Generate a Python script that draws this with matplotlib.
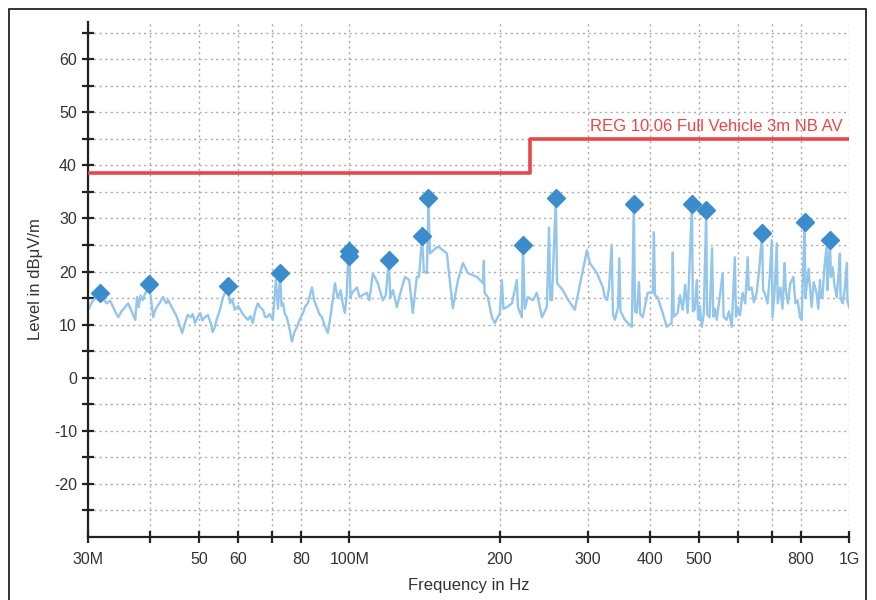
import matplotlib
matplotlib.use("Agg")
import matplotlib.pyplot as plt
from matplotlib.ticker import FixedLocator, FixedFormatter, NullLocator
from matplotlib.patches import Rectangle

plt.rcParams['font.family'] = ['Liberation Sans', 'DejaVu Sans']
plt.rcParams['axes.unicode_minus'] = False

# measured trace: frequency (MHz), level (dBuV/m)
trace_freq = [
    30.0, 30.4, 30.7, 31.2, 31.7, 32.2, 32.7, 33.2, 33.7, 34.1, 34.5, 35.0, 35.6, 36.1, 36.8,
    37.3, 37.6, 37.9, 38.2, 38.6, 39.0, 39.4, 39.8, 40.2, 40.5, 40.8, 41.2, 41.8, 42.4, 43.0,
    43.4, 44.0, 44.4, 45.0, 45.4, 46.3, 46.9, 47.5, 48.2, 48.6, 49.1, 49.8, 50.3, 50.8, 51.4,
    52.1, 52.8, 53.3, 53.8, 54.3, 55.3, 55.8, 56.4, 57.2, 57.7, 58.3, 59.0, 60.0, 61.0, 61.8,
    62.7, 63.4, 64.1, 64.8, 65.6, 66.4, 67.2, 67.8, 68.4, 69.3, 70.3, 71.3, 72.0, 72.7, 73.2,
    73.7, 74.3, 75.0, 76.0, 76.8, 77.6, 78.6, 79.6, 80.8, 81.7, 82.6, 83.4, 84.2, 85.1, 86.1,
    87.1, 88.1, 89.3, 90.6, 92.0, 93.6, 94.8, 96.1, 97.0, 98.0, 98.8, 99.5, 100.0, 100.6,
    101.3, 103.6, 104.8, 108.4, 109.7, 111.5, 114.0, 116.7, 118.3, 120.0, 120.8,
    122.3, 124.5, 125.9, 129.2, 131.8, 134.0, 136.5, 137.9, 139.8, 141.0, 143.0, 144.0, 145.0,
    149.8, 151.2, 156.8, 158.3, 161.2, 165.0, 168.8, 172.7, 180.1, 185.2, 185.9, 186.5, 189.3,
    192.9, 195.6, 200.2, 202.0, 203.5, 206.8, 211.6, 216.4, 217.5, 221.4, 222.6, 224.5, 227.7,
    233.1, 237.3, 243.0, 248.5, 251.0, 252.5, 254.4, 259.0, 260.5, 267.4, 274.4, 282.6, 287.2,
    296.0, 298.7, 303.0, 313.0, 321.7, 324.6, 328.0, 331.0, 335.0, 337.0, 340.0, 345.0, 347.0,
    349.0, 356.0, 361.0, 367.6, 371.0, 373.0, 376.0, 380.0, 382.0, 386.5, 395.5, 404.7, 407.0,
    409.0, 414.0, 423.8, 431.7, 441.7, 444.0, 446.0, 454.0, 459.0, 464.7, 470.0, 475.5, 485.0,
    487.0, 491.0, 496.0, 499.0, 503.0, 507.5, 512.0, 518.0, 520.0, 526.0, 532.0, 535.0, 539.0,
    543.6, 550.0, 558.7, 561.0, 569.0, 575.0, 582.6, 591.0, 594.0, 598.6, 605.0, 612.6, 620.0,
    627.0, 630.0, 638.5, 645.0, 653.5, 662.0, 670.0, 673.0, 678.0, 687.0, 694.0, 700.5,
    703.0, 710.0, 717.0, 720.0, 729.0, 736.0, 743.5, 747.0, 755.0, 763.0, 774.0, 781.0, 789.0,
    798.0, 804.0, 815.0, 818.0, 822.0, 830.0, 841.5, 850.0, 861.0, 868.0, 875.0, 878.0, 885.0,
    893.0, 902.0, 905.0, 910.0, 916.0, 920.0, 927.0, 935.0, 945.0, 952.0, 959.0, 962.0, 971.0,
    980.0, 990.0, 993.0, 1000.0,
]
trace_level = [
    12.8, 13.8, 14.6, 15.2, 15.9, 14.8, 14.0, 14.5, 13.3, 12.2, 11.4, 12.5, 13.3, 14.0, 12.2,
    10.9, 15.2, 13.3, 15.5, 14.6, 15.8, 16.5, 17.6, 14.0, 11.4, 12.5, 13.3, 14.2, 15.2, 14.0,
    14.6, 13.5, 12.8, 11.8, 10.9, 8.4, 10.3, 11.8, 11.4, 12.0, 10.3, 11.5, 12.2, 10.8, 11.4,
    11.8, 10.3, 8.6, 9.5, 11.0, 13.3, 15.0, 16.0, 17.3, 14.0, 14.8, 12.8, 13.5, 12.2, 11.5,
    10.9, 11.6, 10.3, 12.5, 14.0, 13.2, 12.8, 11.5, 11.4, 12.0, 10.9, 18.4, 13.0, 19.7, 13.5,
    14.0, 12.0, 11.4, 9.0, 6.8, 8.5, 9.6, 11.0, 12.2, 13.5, 14.0, 15.5, 17.0, 14.5, 13.3,
    12.0, 11.4, 9.8, 8.4, 12.5, 17.8, 15.0, 16.5, 14.0, 12.2, 15.5, 22.9, 23.8, 15.0,
    16.0, 17.0, 15.2, 16.0, 14.6, 19.7, 17.8, 14.6, 15.5, 22.1, 15.0,
    16.5, 13.3, 15.2, 19.0, 18.4, 12.2, 19.0, 19.0, 26.6, 20.0, 19.7, 33.8, 23.4,
    24.6, 24.6, 23.4, 19.7, 13.1, 18.4, 21.6, 19.7, 19.0, 17.8, 22.0, 16.0, 15.2,
    11.4, 10.3, 12.2, 18.4, 13.0, 13.3, 14.0, 18.4, 13.3, 11.4, 25.0, 13.0, 15.2,
    14.6, 16.0, 11.4, 13.3, 28.3, 14.6, 14.6, 33.8, 17.8, 16.5, 14.6, 12.8, 16.0,
    22.0, 24.0, 21.6, 19.7, 17.0, 15.2, 14.6, 17.0, 25.0, 12.0, 10.9, 13.3, 22.5,
    12.5, 10.9, 10.3, 9.6, 32.8, 12.5, 12.2, 18.0, 12.0, 11.4, 16.0, 16.0, 27.4,
    15.5, 15.2, 12.2, 9.6, 10.3, 23.6, 11.5, 12.2, 15.5, 12.8, 17.5, 12.2, 32.8,
    12.5, 12.8, 18.4, 11.0, 13.5, 9.6, 12.0, 31.5, 12.0, 11.4, 24.4, 11.5, 13.0,
    10.9, 14.5, 19.7, 11.5, 10.9, 12.5, 9.6, 22.7, 11.5, 13.3, 11.8, 16.0, 14.0,
    22.7, 16.5, 17.0, 14.2, 16.0, 21.0, 27.2, 16.5, 16.0, 14.0, 19.0, 25.9,
    11.4, 16.5, 25.3, 14.0, 17.0, 13.0, 21.6, 16.5, 14.0, 17.8, 19.0, 14.0, 14.6,
    11.4, 10.9, 29.3, 15.0, 17.0, 20.5, 13.3, 18.0, 16.0, 13.0, 18.4, 15.0, 15.2,
    21.0, 24.6, 16.5, 20.5, 25.9, 19.0, 20.8, 17.5, 15.2, 19.0, 23.4, 15.0, 14.0,
    16.5, 21.6, 14.5, 13.3,
]

# peak markers
peak_freq = [31.7, 39.8, 57.2, 72.7, 100.0, 100.0, 120.0, 139.8, 144.0, 222.6,
             259.0, 371.0, 485.0, 518.0, 670.0, 815.0, 916.0]
peak_level = [15.9, 17.6, 17.3, 19.7, 23.8, 22.9, 22.1, 26.6, 33.8, 25.0,
              33.8, 32.8, 32.8, 31.5, 27.2, 29.3, 25.9]

# limit line
limit_freq = [30.0, 230.0, 230.0, 1000.0]
limit_level = [38.6, 38.6, 45.0, 45.0]
limit_name = "REG 10.06 Full Vehicle 3m NB AV"

xtick_vals = [30, 40, 50, 60, 70, 80, 100, 200, 300, 400, 500, 600, 700, 800, 1000]
xtick_text = ["30M", "", "50", "60", "", "80", "100M", "200", "300", "400", "500", "", "", "800", "1G"]
ytick_vals = [-20, -10, 0, 10, 20, 30, 40, 50, 60]

text_col = "#333333"

fig = plt.figure(figsize=(8.76, 6.0), dpi=100)
ax = fig.add_axes([88 / 876, 1 - 537 / 600, (849 - 88) / 876, (537 - 22) / 600])

ax.plot(trace_freq, trace_level, color="#93c6ea", lw=1.7, zorder=2)
ax.plot(limit_freq, limit_level, color="#e8474a", lw=2.6, zorder=3)
ax.plot(peak_freq, peak_level, linestyle="none", marker="D", markersize=9,
        color="#3a8ccc", zorder=4)
ax.text(970, 45.9, limit_name, color="#e8474a", fontsize=12, ha="right", va="bottom")

ax.set_xscale("log")
ax.set_xlim(30, 1000)
ax.set_ylim(-30, 67)
ax.xaxis.set_major_locator(FixedLocator(xtick_vals))
ax.xaxis.set_major_formatter(FixedFormatter(xtick_text))
ax.xaxis.set_minor_locator(NullLocator())
ax.set_yticks(ytick_vals)
ax.set_yticks([-25, -15, -5, 5, 15, 25, 35, 45, 55, 65], minor=True)

ax.grid(True, which="both", color="#aaaaaa", linestyle=(0, (1.5, 2.5)), linewidth=1.0)
ax.set_axisbelow(True)
for side in ("top", "right"):
    ax.spines[side].set_visible(False)
for side in ("left", "bottom"):
    ax.spines[side].set_linewidth(1.6)
    ax.spines[side].set_color("#222222")

ax.tick_params(which="both", direction="inout", length=9, width=1.6, color="#222222",
               labelsize=11.5, labelcolor=text_col)
ax.tick_params(axis="x", pad=6)

ax.set_xlabel("Frequency in Hz", fontsize=12, color=text_col, labelpad=8)
ax.set_ylabel("Level in dB\u03bcV/m", fontsize=12, color=text_col, labelpad=8)

# outer frame
fig.patches.append(Rectangle((9 / 876, -0.01), (866 - 9) / 876, 1 - 9 / 600 + 0.01,
                             transform=fig.transFigure, fill=False, ec="#111111", lw=1.2))

fig.savefig("out.png", dpi=100)
